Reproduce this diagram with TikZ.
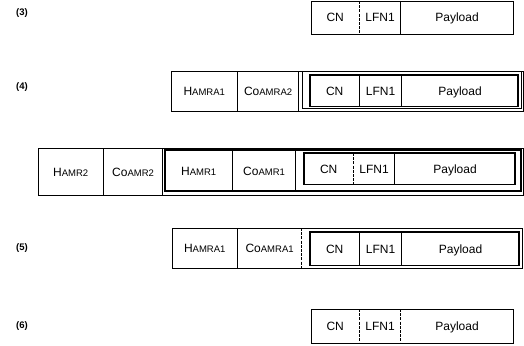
\documentclass[tikz,border=0pt]{standalone}
\usepackage{fontspec}
\setmainfont{Liberation Sans}
% smaller trailing letters of the header field names
\newcommand\lowpart[1]{{\fontsize{9.5}{11}\selectfont #1}}
\begin{document}
\begin{tikzpicture}[x=1pt,y=-1pt,
  fld/.style={inner sep=0pt, anchor=north west, text height=8.6pt, text depth=0pt,
    font=\fontsize{12}{14}\selectfont},
  lbl/.style={font=\bfseries\fontsize{9.5}{11}\selectfont},
  frm/.style={line width=0.9pt},
  mid/.style={line width=1.3pt},
  thk/.style={line width=1.7pt},
  brk/.style={line width=0.8pt, dash pattern=on 3pt off 1.2pt}]
\useasboundingbox (0,0) rectangle (524,345);

% ---- (3) plain packet
\node[fld,minimum width=48pt,minimum height=33pt] (cn3) at (311,1) {CN};
\node[fld,minimum width=41pt,minimum height=33pt] (lf3) at (cn3.north east) {LFN1};
\node[fld,minimum width=112pt,minimum height=33pt] (pl3) at (lf3.north east) {Payload};
\draw[frm] (cn3.north west) rectangle (pl3.south east);
\draw[brk] (cn3.north east) -- (cn3.south east);
\draw[frm] (lf3.north east) -- (lf3.south east);
\node[lbl] (l3) at (22,13) {(3)};

% ---- (4) packet with one header pair
\node[fld,minimum width=66pt,minimum height=40pt] (h4) at (171,71) {H\lowpart{AMRA1}};
\node[fld,minimum width=61pt,minimum height=40pt] (c4) at (h4.north east) {Co\lowpart{AMRA2}};
\coordinate (o4) at (523,111);
\coordinate (fa4) at (302,71);
\coordinate (fb4) at (521,108);
\node[fld,minimum width=49pt,minimum height=31pt] (cn4) at (310,75) {CN};
\node[fld,minimum width=42pt,minimum height=31pt] (lf4) at (cn4.north east) {LFN1};
\node[fld,minimum width=116pt,minimum height=31pt] (pl4) at (lf4.north east) {Payload};
\draw[frm] (h4.north west) rectangle (o4);
\draw[frm] (h4.north east) -- (h4.south east);
\draw[frm] (c4.north east) -- (c4.south east);
\draw[frm] (fa4) rectangle (fb4);
\draw[thk] (cn4.north west) rectangle (pl4.south east);
\draw[frm] (cn4.north east) -- (cn4.south east);
\draw[frm] (lf4.north east) -- (lf4.south east);
\node[lbl] (l4) at (22,87) {(4)};

% ---- nested packet with two header pairs
\node[fld,minimum width=65pt,minimum height=47pt] (h2) at (38,148) {H\lowpart{AMR2}};
\node[fld,minimum width=59pt,minimum height=47pt] (c2) at (h2.north east) {Co\lowpart{AMR2}};
\coordinate (om) at (523,195);
\node[fld,minimum width=67pt,minimum height=41pt] (h1) at (165,150) {H\lowpart{AMR1}};
\node[fld,minimum width=63pt,minimum height=41pt] (c1) at (h1.north east) {Co\lowpart{AMR1}};
\coordinate (fm) at (521,191);
\node[fld,minimum width=49pt,minimum height=31pt] (cnm) at (304,153) {CN};
\node[fld,minimum width=41pt,minimum height=31pt] (lfm) at (cnm.north east) {LFN1};
\node[fld,minimum width=120pt,minimum height=31pt] (plm) at (lfm.north east) {Payload};
\draw[frm] (h2.north west) rectangle (om);
\draw[frm] (h2.north east) -- (h2.south east);
\draw[frm] (c2.north east) -- (c2.south east);
\draw[mid] (h1.north west) rectangle (fm);
\draw[frm] (h1.north east) -- (h1.south east);
\draw[frm] (c1.north east) -- (c1.south east);
\draw[thk] (cnm.north west) rectangle (plm.south east);
\draw[brk] (cnm.north east) -- (cnm.south east);
\draw[frm] (lfm.north east) -- (lfm.south east);

% ---- (5) packet with one header pair
\node[fld,minimum width=65pt,minimum height=40pt] (h5) at (172,228) {H\lowpart{AMRA1}};
\node[fld,minimum width=64pt,minimum height=40pt] (c5) at (h5.north east) {Co\lowpart{AMRA1}};
\coordinate (o5) at (522,268);
\node[fld,minimum width=49pt,minimum height=33pt] (cn5) at (310,232) {CN};
\node[fld,minimum width=42pt,minimum height=33pt] (lf5) at (cn5.north east) {LFN1};
\node[fld,minimum width=117pt,minimum height=33pt] (pl5) at (lf5.north east) {Payload};
\draw[frm] (h5.north west) rectangle (o5);
\draw[frm] (h5.north east) -- (h5.south east);
\draw[brk] (c5.north east) -- (c5.south east);
\draw[thk] (cn5.north west) rectangle (pl5.south east);
\draw[frm] (cn5.north east) -- (cn5.south east);
\draw[frm] (lf5.north east) -- (lf5.south east);
\node[lbl] (l5) at (22,248) {(5)};

% ---- (6) plain packet
\node[fld,minimum width=48pt,minimum height=34pt] (cn6) at (311,309) {CN};
\node[fld,minimum width=41pt,minimum height=34pt] (lf6) at (cn6.north east) {LFN1};
\node[fld,minimum width=112pt,minimum height=34pt] (pl6) at (lf6.north east) {Payload};
\draw[frm] (cn6.north west) rectangle (pl6.south east);
\draw[brk] (cn6.north east) -- (cn6.south east);
\draw[brk] (lf6.north east) -- (lf6.south east);
\node[lbl] (l6) at (22,326) {(6)};
\end{tikzpicture}
\end{document}
